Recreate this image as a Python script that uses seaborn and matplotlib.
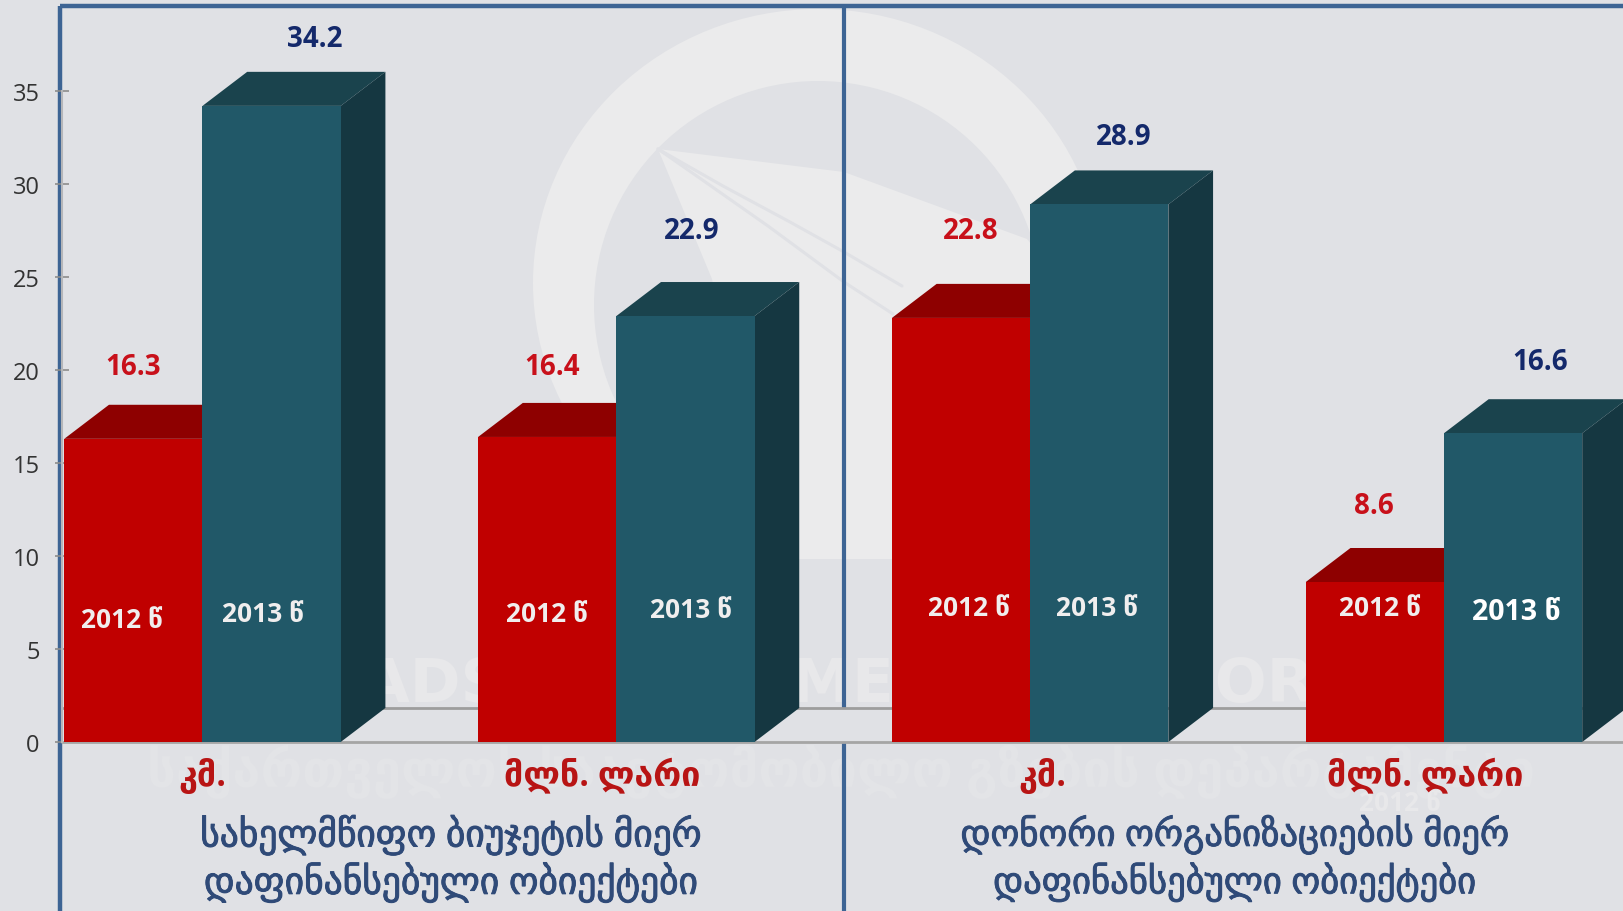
import numpy as np
import pandas as pd
import seaborn as sns
from matplotlib import pyplot as plt
from matplotlib import patheffects as pe
from matplotlib.patches import Circle, Ellipse, Polygon

# data
groups = ["budget km", "budget mln", "donor km", "donor mln"]
values_2012 = [16.3, 16.4, 22.8, 8.6]
values_2013 = [34.2, 22.9, 28.9, 16.6]
years = ["2012 წ", "2013 წ"]
unit_labels = ["კმ.", "მლნ. ლარი", "კმ.", "მლნ. ლარი"]
source_titles = ["სახელმწიფო ბიუჯეტის მიერ\nდაფინანსებული ობიექტები",
                 "დონორი ორგანიზაციების მიერ\nდაფინანსებული ობიექტები"]
y_ticks = [0, 5, 10, 15, 20, 25, 30, 35]

# layout
W, H = 1624, 912
BASE_PX = 743
BG = "#E0E1E5"
LIGHT = "#EBEBEC"
BLUE = "#3D6494"
RED, RED_TOP = "#C00000", "#8E0000"
TEAL, TEAL_TOP, TEAL_SIDE = "#215868", "#1A434D", "#153741"
DEPTH_X, DEPTH_Y = 0.108, 1.83
# label offsets from the top centre of each bar (2012 bars, then 2013 bars)
value_dx = [0.0, 0.012, 0.024, -0.003, 0.105, 0.015, 0.058, 0.066]
value_dy = [3.88, 3.78, 4.69, 4.10, 3.62, 4.59, 3.66, 3.86]
inner_dx = [-0.028, -0.002, 0.019, 0.013, -0.021, 0.013, -0.006, 0.008]
inner_y = [6.58, 6.92, 7.25, 7.25, 6.92, 7.14, 7.25, 7.03]
unit_x = [0.0, 0.967, 2.03, 2.955]
title_x = [0.6, 2.494]
title_size = [27, 26.4]

sns.set_theme(style="white")
plt.rcParams["font.family"] = ["Open Sans", "DejaVu Sans"]

fig = plt.figure(figsize=(W / 100, H / 100), dpi=100, facecolor=BG)

# watermark behind the chart, in pixel coordinates
bg = fig.add_axes([0, 0, 1, 1], zorder=0)
bg.set_xlim(0, W)
bg.set_ylim(H, 0)
bg.axis("off")
bg.add_patch(Ellipse((818, 284), 570, 548, color=LIGHT, lw=0))
bg.add_patch(Circle((818, 306), 224, color=BG, lw=0))
bg.add_patch(Polygon([(658, 150), (844, 173), (1027, 240), (1075, 300), (1060, 560),
                      (740, 560), (722, 330), (712, 280)], color=LIGHT, lw=0))
bg.plot([658, 723, 790, 844, 902], [150, 187, 223, 253, 287], color=BG, lw=2.2)
bg.plot([658, 701, 768, 844, 893], [150, 180, 227, 283, 315], color=BG, lw=2.2)
bg.text(850, 686, "ROADS DEPARTMENT OF GEORGIA", color="#E8E8EA", fontsize=44,
        fontweight="bold", family="DejaVu Sans", ha="center", va="center")
bg.text(841, 772, "საქართველოს საავტომობილო გზების დეპარტამენტი", color="#E3E4E7",
        fontsize=36.5, fontweight="bold", ha="center", va="center")
bg.text(1400, 804, "2012 წ", color="#E8E8EA", fontsize=19, fontweight="bold",
        ha="center", va="center")

ax = fig.add_axes([62 / W, (H - BASE_PX) / H, (W - 62) / W, BASE_PX / H], zorder=1)
ax.patch.set_alpha(0)

df = pd.DataFrame({
    "group": groups * 2,
    "year": [years[0]] * 4 + [years[1]] * 4,
    "value": values_2012 + values_2013,
})
sns.barplot(data=df, x="group", y="value", hue="year", order=groups, hue_order=years,
            palette=[RED, TEAL], width=0.668, gap=0, saturation=1, legend=False,
            errorbar=None, linewidth=0, ax=ax)

ax.set_xlim(-0.3395, 3.435)
ax.set_ylim(0, BASE_PX / 18.6)
ax.set_xlabel("")
ax.set_ylabel("")
ax.set_xticks([])
ax.set_yticks(y_ticks)
ax.tick_params(axis="y", direction="inout", length=10, width=1.2, color="#8c8c8c",
               pad=11, labelsize=17, labelcolor="#333333", left=True)
for name in ["top", "right", "bottom"]:
    ax.spines[name].set_visible(False)
ax.spines["left"].set_color("#b5b6b9")
ax.spines["left"].set_linewidth(1.5)
ax.spines["left"].set_bounds(0, 35)

# floor lines of the fake 3d box
ax.add_patch(Polygon([(-0.3395, 0), (3.435, 0), (3.435, DEPTH_Y), (-0.3395 + DEPTH_X, DEPTH_Y)],
                     color=BG, lw=0, zorder=0.9))
ax.axhline(0, color="#a5a5a5", lw=2, zorder=1, clip_on=False)
ax.axhline(DEPTH_Y, color="#9d9d9d", lw=2, zorder=1)

# top and side faces, worked out from the bars seaborn drew
bars = list(ax.containers[0]) + list(ax.containers[1])
for k, bar in enumerate(bars):
    x0, x1, h = bar.get_x(), bar.get_x() + bar.get_width(), bar.get_height()
    is_2013 = k >= 4
    base_z = 4 if is_2013 else 2
    bar.set_zorder(base_z + 1)
    top_col = TEAL_TOP if is_2013 else RED_TOP
    side_col = TEAL_SIDE if is_2013 else RED_TOP
    ax.add_patch(Polygon([(x0, h), (x1, h), (x1 + DEPTH_X, h + DEPTH_Y), (x0 + DEPTH_X, h + DEPTH_Y)],
                         color=top_col, lw=0, zorder=base_z))
    ax.add_patch(Polygon([(x1, 0), (x1 + DEPTH_X, DEPTH_Y), (x1 + DEPTH_X, h + DEPTH_Y), (x1, h)],
                         color=side_col, lw=0, zorder=base_z))

    cx = (x0 + x1) / 2
    ax.text(cx + value_dx[k], h + value_dy[k], f"{h:.1f}", ha="center", va="center",
            fontsize=20, fontweight="bold", color="#14296B" if is_2013 else "#C8101A",
            zorder=8)
    big = k == 7
    ax.text(cx + inner_dx[k], inner_y[k], years[1 if is_2013 else 0], ha="center", va="center",
            fontsize=20.5 if big else 19, fontweight="bold", color="white" if big else "#F0EEEE",
            zorder=8)

for x, label in zip(unit_x, unit_labels):
    ax.text(x, -1.75, label, ha="center", va="center", fontsize=24.5, fontweight="bold",
            color="#B81414", clip_on=False)

stroke = [pe.withStroke(linewidth=0.7, foreground="#2F4A78")]
for x, size, label in zip(title_x, title_size, source_titles):
    first, second = label.split("\n")
    ax.text(x, -5.0, first, ha="center", va="center", fontsize=size, color="#2F4A78",
            clip_on=False, path_effects=stroke)
    ax.text(x, -7.55, second, ha="center", va="center", fontsize=size, color="#2F4A78",
            clip_on=False, path_effects=stroke)

# blue frame
bg.plot([60, 60], [7, H], color=BLUE, lw=3.2, solid_capstyle="butt")
bg.plot([844, 844], [7, H], color=BLUE, lw=3, solid_capstyle="butt", zorder=3)
bg.plot([60, W], [7, 7], color=BLUE, lw=3.2, solid_capstyle="butt")

fig.savefig("out.png", dpi=100, facecolor=BG)
